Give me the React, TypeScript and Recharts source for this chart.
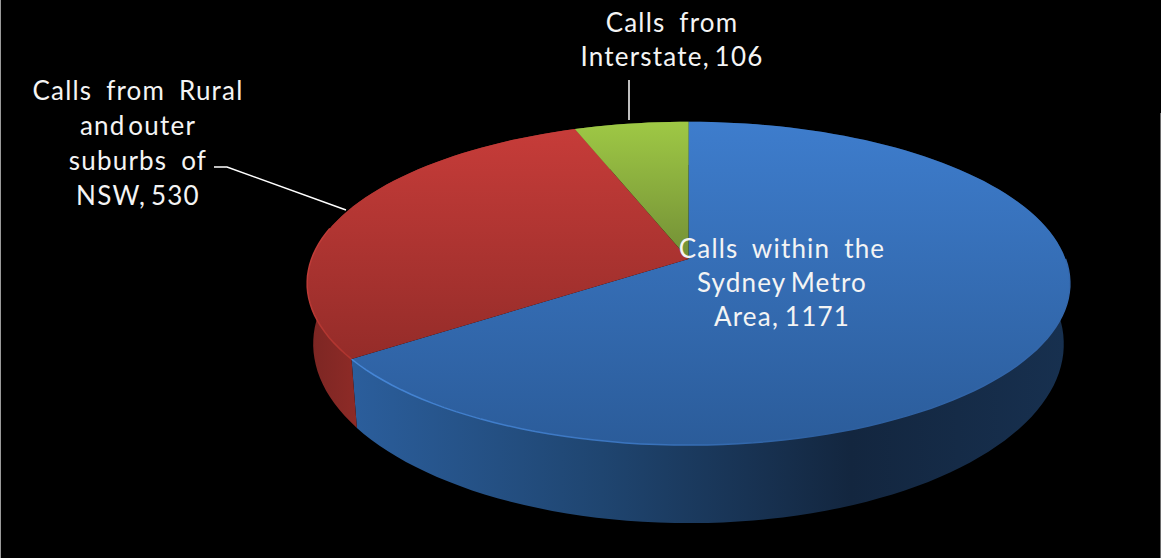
import { PieChart, Pie } from 'recharts';

const CATEGORIES = ['Calls within the Sydney Metro Area', 'Calls from Rural and outer suburbs of NSW', 'Calls from Interstate'];
const VALUES = [1171, 530, 106];
const LABEL_LINES = [
  ['Calls within the', 'Sydney Metro', 'Area,'],
  ['Calls from Rural', 'and outer', 'suburbs of', 'NSW,'],
  ['Calls from', 'Interstate,'],
];

const pieData = CATEGORIES.map((name, i) => ({ name, value: VALUES[i] }));

// where each label block sits, first baseline and per line word gap
const LABEL_LAYOUT = [
  { x: 782, y: 258, lineHeight: 34, gaps: [6, -3, -2] },
  { x: 138, y: 100, lineHeight: 35, gaps: [6, -5, 6, -3] },
  { x: 672, y: 32, lineHeight: 34, gaps: [6, -3] },
];
const LEADERS = [null, '214,167 227,167 346,210', '629,80 629,120'];

// perspective of the disc: upper face and lower face of the slab
const CX = 688.5;
const TILT = 0.151;
const TOP_FACE = { cy: 259, a: 377, b: 158 };
const BOTTOM_FACE = { cy: 317, a: 371, b: 175 };

// the far left of the disc is foreshortened a little more than the rest
const bend = (deg: number) => {
  const d = ((deg % 360) + 360) % 360;
  if (d <= 90 || d >= 270) return deg;
  return deg - 1.5 * Math.pow(Math.sin(((d - 90) * Math.PI) / 180), 0.4);
};

const project = (face: typeof TOP_FACE, deg: number) => {
  const t = (bend(deg) * Math.PI) / 180;
  const w = 1 + TILT * Math.sin(t);
  return [CX + (face.a * Math.cos(t)) / w, face.cy - (face.b * Math.sin(t)) / w];
};

const rim = (face: typeof TOP_FACE, from: number, to: number) => {
  const steps = Math.max(2, Math.ceil(Math.abs(to - from) / 2));
  const pts: number[][] = [];
  for (let i = 0; i <= steps; i++) pts.push(project(face, from + ((to - from) * i) / steps));
  return pts;
};

const toPath = (pts: number[][]) => pts.map((p, i) => `${i ? 'L' : 'M'}${p[0].toFixed(1)} ${p[1].toFixed(1)}`).join(' ');

const TopSlice = (props: any) => {
  const i = CATEGORIES.indexOf(props.name);
  const edge = rim(TOP_FACE, props.startAngle, props.endAngle);
  // the lit edge only runs along the front half of the disc
  const from = Math.min(props.startAngle, 0);
  const to = Math.max(props.endAngle, -190);
  return (
    <g>
      <path d={`M${CX} ${TOP_FACE.cy} ${toPath(edge).replace('M', 'L')} Z`} fill={`url(#top${i})`} />
      {from > to && <path d={toPath(rim(TOP_FACE, from, to))} fill="none" stroke={`url(#edge${i})`} strokeWidth={1.5} />}
    </g>
  );
};

const WallSlice = (props: any) => {
  const i = CATEGORIES.indexOf(props.name);
  const upper = rim(TOP_FACE, props.startAngle, props.endAngle);
  const lower = rim(BOTTOM_FACE, props.endAngle, props.startAngle);
  return <path d={`${toPath(upper)} ${toPath(lower).replace('M', 'L')} Z`} fill={`url(#wall${i})`} />;
};

const SliceLabel = (props: any) => {
  const i = CATEGORIES.indexOf(props.name);
  const layout = LABEL_LAYOUT[i];
  const lines = LABEL_LINES[i];
  const leader = LEADERS[i];
  return (
    <g>
      {leader && <polyline points={leader} fill="none" stroke="#ffffff" strokeWidth={1.5} />}
      <text
        textAnchor="middle"
        fill="#f4f4f4"
        fontFamily="Lato, 'Open Sans', sans-serif"
        fontSize={26}
        letterSpacing={1.2}
      >
        {lines.map((line, n) => (
          <tspan key={n} x={layout.x} y={layout.y + n * layout.lineHeight} wordSpacing={layout.gaps[n]}>
            {n === lines.length - 1 ? `${line} ${VALUES[i]}` : line}
          </tspan>
        ))}
      </text>
    </g>
  );
};

export default function App() {
  return (
    <div style={{ position: 'absolute', left: 0, top: 0, width: 1161, height: 558, background: '#000', overflow: 'hidden' }}>
      <div style={{ position: 'absolute', left: 0, top: 0, width: 1, height: 558, background: '#9a9a9a' }} />
      <div style={{ position: 'absolute', left: 1160, top: 113, width: 1, height: 445, background: '#6a6a6a' }} />
      <PieChart width={1161} height={558} margin={{ top: 0, right: 0, bottom: 0, left: 0 }}>
        <defs>
          <linearGradient id="top0" gradientUnits="userSpaceOnUse" x1="0" y1="120" x2="0" y2="445">
            <stop offset="0" stopColor="#3e7dcd" />
            <stop offset="1" stopColor="#2b5c9a" />
          </linearGradient>
          <linearGradient id="top1" gradientUnits="userSpaceOnUse" x1="0" y1="130" x2="0" y2="357">
            <stop offset="0" stopColor="#c63c39" />
            <stop offset="1" stopColor="#952c29" />
          </linearGradient>
          <linearGradient id="top2" gradientUnits="userSpaceOnUse" x1="0" y1="120" x2="0" y2="258">
            <stop offset="0" stopColor="#9fc945" />
            <stop offset="1" stopColor="#738f36" />
          </linearGradient>
          <linearGradient id="edge0" gradientUnits="userSpaceOnUse" x1="350" y1="0" x2="1070" y2="0">
            <stop offset="0" stopColor="#4687d8" />
            <stop offset="0.4" stopColor="#3a74be" />
            <stop offset="0.65" stopColor="#2d5f9f" />
            <stop offset="1" stopColor="#3468ad" />
          </linearGradient>
          <linearGradient id="edge1" gradientUnits="userSpaceOnUse" x1="0" y1="265" x2="0" y2="357">
            <stop offset="0" stopColor="#c03c38" />
            <stop offset="1" stopColor="#b0352f" />
          </linearGradient>
          <linearGradient id="wall0" gradientUnits="userSpaceOnUse" x1="352" y1="0" x2="1065" y2="0">
            <stop offset="0" stopColor="#2b5e9c" />
            <stop offset="0.35" stopColor="#1f4570" />
            <stop offset="0.7" stopColor="#13263f" />
            <stop offset="1" stopColor="#17304f" />
          </linearGradient>
          <linearGradient id="wall1" gradientUnits="userSpaceOnUse" x1="310" y1="0" x2="360" y2="0">
            <stop offset="0" stopColor="#7c2623" />
            <stop offset="1" stopColor="#8f2b27" />
          </linearGradient>
          <linearGradient id="wall2" gradientUnits="userSpaceOnUse" x1="0" y1="0" x2="0" y2="1">
            <stop offset="0" stopColor="#5f7a2c" />
            <stop offset="1" stopColor="#5f7a2c" />
          </linearGradient>
        </defs>
        <Pie
          data={pieData}
          dataKey="value"
          nameKey="name"
          cx={CX}
          cy={TOP_FACE.cy}
          outerRadius={TOP_FACE.a}
          startAngle={90}
          endAngle={-270}
          stroke="none"
          shape={WallSlice}
          isAnimationActive={false}
        />
        <Pie
          data={pieData}
          dataKey="value"
          nameKey="name"
          cx={CX}
          cy={TOP_FACE.cy}
          outerRadius={TOP_FACE.a}
          startAngle={90}
          endAngle={-270}
          stroke="none"
          shape={TopSlice}
          label={SliceLabel}
          labelLine={false}
          isAnimationActive={false}
        />
      </PieChart>
    </div>
  );
}
